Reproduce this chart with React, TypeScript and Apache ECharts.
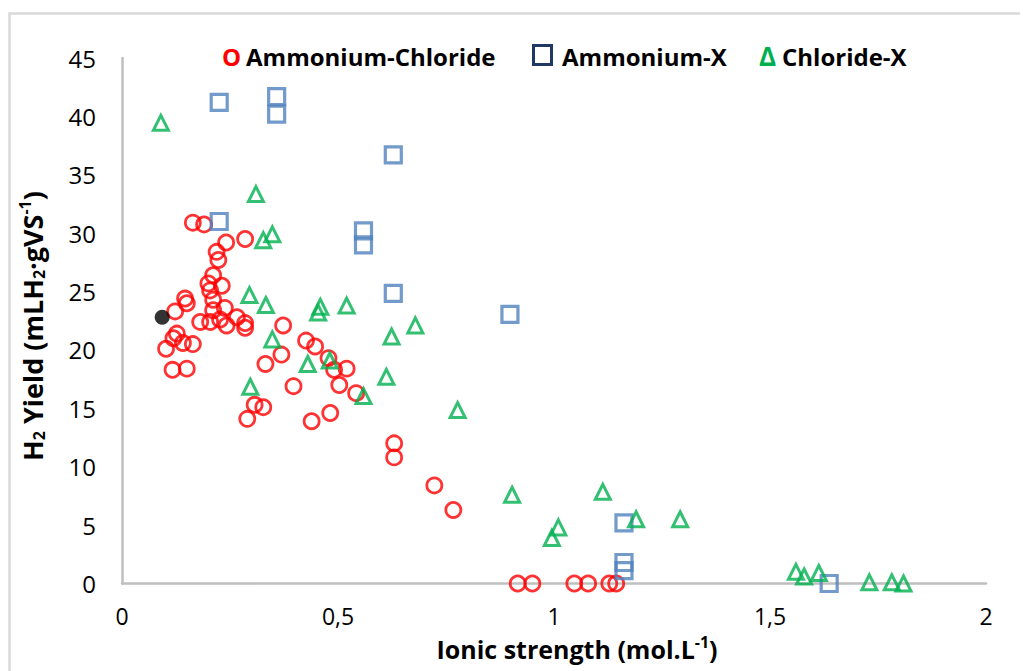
import React, { useEffect, useRef } from "react";
import * as echarts from "echarts";

// Values (x: ionic strength mol/L, y: H2 yield)
const ammoniumChloride: number[][] = [
  [0.164, 30.9], [0.19, 30.75], [0.241, 29.2], [0.285, 29.5], [0.219, 28.4], [0.223, 27.7],
  [0.211, 26.4], [0.2, 25.7], [0.231, 25.5], [0.204, 25.1], [0.146, 24.4], [0.15, 24.0],
  [0.123, 23.3], [0.211, 24.3], [0.211, 23.4], [0.238, 23.6], [0.181, 22.4], [0.204, 22.4],
  [0.227, 22.6], [0.242, 22.1], [0.266, 22.8], [0.285, 22.3], [0.285, 21.9], [0.127, 21.4],
  [0.119, 21.0], [0.141, 20.6], [0.164, 20.5], [0.102, 20.1], [0.117, 18.3], [0.15, 18.4],
  [0.373, 22.1], [0.426, 20.8], [0.447, 20.3], [0.369, 19.6], [0.332, 18.8], [0.478, 19.3],
  [0.491, 18.3], [0.52, 18.4], [0.397, 16.9], [0.503, 17.0], [0.542, 16.3], [0.307, 15.3],
  [0.327, 15.1], [0.29, 14.1], [0.482, 14.6], [0.439, 13.9], [0.63, 12.0], [0.63, 10.8],
  [0.723, 8.4], [0.767, 6.3], [0.916, 0], [0.95, 0], [1.047, 0], [1.079, 0], [1.128, 0], [1.144, 0],
];
const ammoniumX: number[][] = [
  [0.225, 41.2], [0.358, 41.7], [0.358, 40.2], [0.628, 36.7], [0.225, 31.0], [0.559, 30.2],
  [0.559, 29.0], [0.628, 24.85], [0.898, 23.05], [1.162, 5.2], [1.162, 1.8], [1.162, 1.1], [1.637, 0],
];
const chlorideX: number[][] = [
  [0.09, 39.45], [0.31, 33.35], [0.327, 29.4], [0.348, 29.9], [0.295, 24.7], [0.333, 23.85],
  [0.459, 23.7], [0.454, 23.2], [0.52, 23.8], [0.679, 22.1], [0.624, 21.15], [0.348, 20.9],
  [0.43, 18.8], [0.481, 19.1], [0.612, 17.7], [0.297, 16.85], [0.559, 16.05], [0.777, 14.85],
  [0.903, 7.6], [1.113, 7.85], [1.01, 4.8], [0.995, 3.9], [1.19, 5.5], [1.292, 5.5],
  [1.56, 1.0], [1.579, 0.6], [1.613, 0.9], [1.73, 0.1], [1.782, 0.1], [1.809, 0.0],
];
const control: number[][] = [[0.093, 22.8]];

const legendNames = ["Ammonium-Chloride", "Ammonium-X", "Chloride-X"];
const xTitle = "Ionic strength (mol.L{sup|-1})";
const yTitle = "H{sub|2} Yield (mLH{sub|2}·gVS{sup|-1})";

const FONT = "'Open Sans', 'Liberation Sans', sans-serif";

export default function App() {
  const ref = useRef<HTMLDivElement>(null);
  useEffect(() => {
    const prevOverflow = document.documentElement.style.overflow;
    document.documentElement.style.overflow = "hidden";
    const chart = echarts.init(ref.current!, null, { renderer: "svg" });
    const titleRich = {
      sub: { fontSize: 16, fontWeight: "bold", fontFamily: FONT, fill: "#000", verticalAlign: "bottom", lineHeight: 15 },
      sup: { fontSize: 16, fontWeight: "bold", fontFamily: FONT, fill: "#000", verticalAlign: "top", lineHeight: 15 },
    };
    chart.setOption({
      animation: false,
      grid: { left: 114, top: 50, right: 42, bottom: 87.5, containLabel: false },
      xAxis: {
        type: "value",
        min: 0,
        max: 2,
        interval: 0.5,
        splitLine: { show: false },
        axisTick: { show: false },
        axisLine: { show: true, lineStyle: { color: "#bfbfbf", width: 2.5 } },
        axisLabel: {
          margin: 24,
          fontSize: 23,
          lineHeight: 16,
          fontFamily: FONT,
          color: "#000",
          formatter: (v: number) => String(v).replace(".", ","),
        },
      },
      yAxis: {
        type: "value",
        min: 0,
        max: 45,
        interval: 5,
        splitLine: { show: false },
        axisTick: { show: false },
        axisLine: { show: true, lineStyle: { color: "#bfbfbf", width: 2.5 } },
        axisLabel: { margin: 26, fontSize: 24, fontFamily: FONT, color: "#000" },
      },
      series: [
        {
          name: legendNames[0],
          type: "scatter",
          symbol: "circle",
          symbolSize: 15,
          data: ammoniumChloride,
          itemStyle: { color: "rgba(0,0,0,0)", borderColor: "#ff0000", borderWidth: 2.8 },
        },
        {
          name: legendNames[1],
          type: "scatter",
          symbol: "rect",
          symbolSize: 16,
          data: ammoniumX,
          itemStyle: { color: "rgba(0,0,0,0)", borderColor: "#4f81bd", borderWidth: 3.2 },
        },
        {
          name: legendNames[2],
          type: "scatter",
          symbol: "triangle",
          symbolSize: 15,
          data: chlorideX,
          itemStyle: { color: "rgba(0,0,0,0)", borderColor: "#00b050", borderWidth: 3 },
        },
        {
          name: "control",
          type: "scatter",
          symbol: "circle",
          symbolSize: 15,
          data: control,
          itemStyle: { color: "#000" },
        },
      ],
      graphic: [
        {
          type: "rect",
          silent: true,
          shape: { x: 1.5, y: 5.5, width: 1040, height: 700 },
          style: { fill: "none", stroke: "#d9d9d9", lineWidth: 2.5 },
        },
        {
          type: "text",
          x: 214,
          y: 48,
          style: { text: "O", fontSize: 24, fontWeight: "bold", fontFamily: FONT, fill: "#ff0000", verticalAlign: "middle" },
        },
        {
          type: "text",
          x: 238,
          y: 48,
          style: { text: legendNames[0], fontSize: 24, fontWeight: "bold", fontFamily: FONT, fill: "#000", verticalAlign: "middle" },
        },
        {
          type: "rect",
          shape: { x: 525.5, y: 37.5, width: 18, height: 19 },
          style: { fill: "none", stroke: "#1f3864", lineWidth: 3 },
        },
        {
          type: "text",
          x: 554,
          y: 48,
          style: { text: legendNames[1], fontSize: 24, fontWeight: "bold", fontFamily: FONT, fill: "#000", verticalAlign: "middle" },
        },
        {
          type: "text",
          x: 751,
          y: 48,
          style: { text: "Δ", fontSize: 26, fontWeight: "bold", fontFamily: FONT, fill: "#00b050", verticalAlign: "middle" },
        },
        {
          type: "text",
          x: 774,
          y: 48,
          style: { text: legendNames[2], fontSize: 24, fontWeight: "bold", fontFamily: FONT, fill: "#000", verticalAlign: "middle" },
        },
        {
          type: "text",
          x: 569,
          y: 640.5,
          style: {
            text: xTitle,
            fontSize: 25,
            fontWeight: "bold",
            fontFamily: FONT,
            fill: "#000",
            align: "center",
            verticalAlign: "middle",
            lineHeight: 30,
            rich: titleRich,
          },
        },
        {
          type: "text",
          x: 24,
          y: 318,
          rotation: Math.PI / 2,
          style: {
            text: yTitle,
            fontSize: 27,
            fontWeight: "bold",
            fontFamily: FONT,
            fill: "#000",
            align: "center",
            verticalAlign: "middle",
            lineHeight: 30,
            rich: titleRich,
          },
        },
      ],
    });
    return () => {
      chart.dispose();
      document.documentElement.style.overflow = prevOverflow;
    };
  }, []);
  return <div ref={ref} style={{ width: 1020, height: 663 }} />;
}
